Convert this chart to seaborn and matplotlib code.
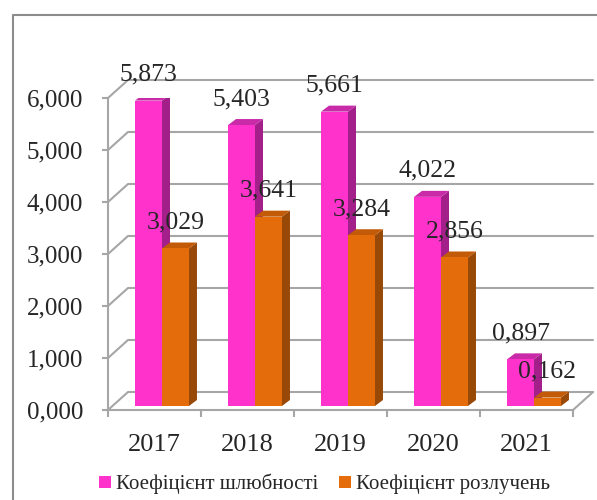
import matplotlib
matplotlib.use("Agg")
import matplotlib.pyplot as plt
from matplotlib.patches import Polygon, Patch
from matplotlib.lines import Line2D
from matplotlib.ticker import FixedLocator, FuncFormatter
import seaborn as sns
import pandas as pd

years = ["2017", "2018", "2019", "2020", "2021"]
marriage = [5.873, 5.403, 5.661, 4.022, 0.897]
divorce = [3.029, 3.641, 3.284, 2.856, 0.162]
series = ["Коефіцієнт шлюбності", "Коефіцієнт розлучень"]
y_ticks = [0, 1, 2, 3, 4, 5, 6]

front = ["#FF33CC", "#E46C0A"]
side = ["#A3208A", "#984807"]
top = ["#C82AA8", "#C25A08"]
grid_col = "#A6A6A6"

sns.set_style("white")
plt.rcParams["font.family"] = ["Liberation Serif", "DejaVu Serif"]

df = pd.DataFrame({
    "year": years * 2,
    "value": marriage + divorce,
    "series": [series[0]] * len(years) + [series[1]] * len(years),
})

fig = plt.figure(figsize=(5.97, 5.0), dpi=100)
ax = fig.add_axes([108 / 597, 90 / 500, 465 / 597, 312 / 500])

# pseudo-3D geometry (data units)
dx, dy = 20 / 93, 18 / 52        # depth of the chart box
bdx, bdy = 8 / 93, 6 / 52        # depth of a single bar
base = 4 / 52                    # bars stand a bit behind the front edge
shift = 7.5 / 93                 # and a bit to the right

sns.barplot(data=df, x="year", y="value", hue="series", palette=front,
            width=0.58, saturation=1, errorbar=None, legend=False,
            linewidth=0, ax=ax)

n = len(years)
for i, p in enumerate(list(ax.patches)[:2 * n]):
    s = i // n
    p.set_x(p.get_x() + shift)
    p.set_y(base)
    p.set_zorder(3 + 2 * s)
    x0, x1 = p.get_x(), p.get_x() + p.get_width()
    y0, y1 = base, base + p.get_height()
    ax.add_patch(Polygon([(x1, y0), (x1 + bdx, y0 + bdy), (x1 + bdx, y1 + bdy), (x1, y1)],
                         closed=True, facecolor=side[s], edgecolor="none", zorder=3 + 2 * s - 0.5))
    ax.add_patch(Polygon([(x0, y1), (x0 + bdx, y1 + bdy), (x1 + bdx, y1 + bdy), (x1, y1)],
                         closed=True, facecolor=top[s], edgecolor="none", zorder=3 + 2 * s - 0.5))
    val = p.get_height()
    ax.annotate(f"{val:.3f}".replace(".", ","), ((x0 + x1) / 2, y1), xytext=(0, 18.7),
                textcoords="offset points", ha="center", va="center", fontsize=18.5,
                annotation_clip=False, zorder=10)

# back wall gridlines and floor
for v in y_ticks:
    ax.plot([-0.5, -0.5 + dx, 4.5 + dx], [v, v + dy, v + dy], color=grid_col,
            lw=1.5, clip_on=False, zorder=1)
ax.plot([4.5, 4.5 + dx], [0, dy], color=grid_col, lw=1.5, clip_on=False, zorder=1)

ax.set_xlim(-0.5, 4.5)
ax.set_ylim(0, 6)
ax.set_xlabel("")
ax.set_ylabel("")
for sp in ["top", "right"]:
    ax.spines[sp].set_visible(False)
for sp in ["left", "bottom"]:
    ax.spines[sp].set_color(grid_col)
    ax.spines[sp].set_linewidth(1.5)

ax.yaxis.set_major_locator(FixedLocator(y_ticks))
ax.yaxis.set_major_formatter(FuncFormatter(lambda v, _: f"{v:.3f}".replace(".", ",")))
ax.tick_params(axis="y", length=4, width=1.5, color=grid_col, pad=14, labelsize=18, left=True)
ax.set_xticks(range(n))
ax.set_xticklabels(years)
ax.tick_params(axis="x", which="major", length=0, pad=17, labelsize=19)
ax.xaxis.set_minor_locator(FixedLocator([i - 0.5 for i in range(n + 1)]))
ax.tick_params(axis="x", which="minor", length=5, width=1.5, color=grid_col, bottom=True)

handles = [Patch(facecolor=c, edgecolor="none") for c in front]
fig.legend(handles, series, loc="center", bbox_to_anchor=(0.5436, 0.032), ncol=2,
           frameon=False, fontsize=15, handlelength=0.55, handleheight=0.55,
           handletextpad=0.25, columnspacing=1.0)

# outer chart border (left and top edges visible)
fig.add_artist(Line2D([13 / 597, 13 / 597, 1], [0, 1 - 15 / 500, 1 - 15 / 500],
                      transform=fig.transFigure, color="#8C8C8C", lw=1.5))

fig.savefig("out.png", dpi=100)
